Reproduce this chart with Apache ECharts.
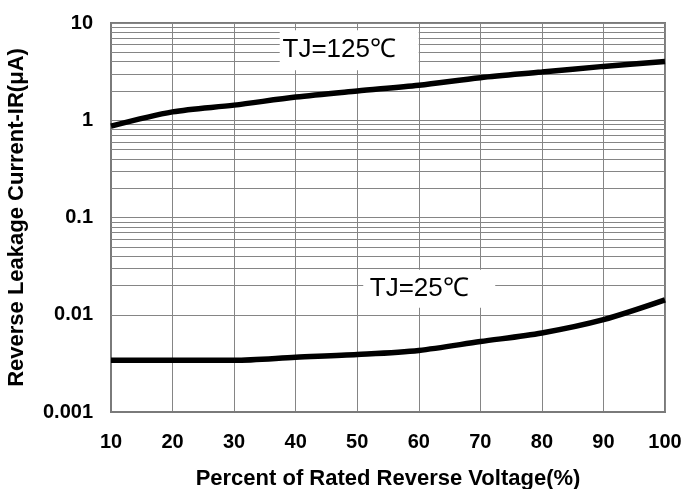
<!DOCTYPE html>
<html>
<head>
  <meta charset="utf-8" />
  <title>Reverse Leakage Current</title>
  <script src="https://cdn.jsdelivr.net/npm/echarts@6/dist/echarts.min.js"></script>
</head>
<body style="margin: 0; background-color: #ffffff">
  <div id="main" style="width: 684px; height: 489px;"></div>
  <script type="text/javascript">
    // percent of rated reverse voltage
    var voltPct = [10, 20, 30, 40, 50, 60, 70, 80, 90, 100];
    // leakage current (uA)
    var ir125 = [0.87, 1.22, 1.43, 1.73, 2.0, 2.29, 2.74, 3.13, 3.58, 4.03];
    var ir25 = [0.0034, 0.0034, 0.0034, 0.00365, 0.0039, 0.0043, 0.0053, 0.0065, 0.0089, 0.0142];
    var seriesNames = ['TJ=125℃', 'TJ=25℃'];
    var labelAt = [[48.7, 5.25], [61.7, 0.0185]];
    var decades = [0.001, 0.01, 0.1, 1];
    var minorSteps = [2, 3, 4, 5, 6, 7, 8, 9];

    var minorLines = [];
    decades.forEach(function(d) {
        minorSteps.forEach(function(m) { minorLines.push({yAxis: +(d * m).toPrecision(2)}); });
    });

    function pairs(ys) { return voltPct.map(function(x, i) { return [x, ys[i]]; }); }

    var boldFont = {fontFamily: 'Liberation Sans, Arial, sans-serif', fontWeight: 'bold', color: '#000'};
    var gridColor = '#858585';

    function tagPoint(i, w, h) {
        return {
            silent: true,
            symbol: 'rect',
            symbolSize: [w, h],
            itemStyle: {color: '#ffffff'},
            label: {show: true, position: 'inside', offset: [-10, 0], formatter: seriesNames[i], color: '#000',
                    fontFamily: 'Liberation Sans, Arial, sans-serif', fontSize: 26},
            data: [{coord: labelAt[i]}]
        };
    }

    var myChart = echarts.init(document.getElementById('main'), null, {renderer: 'canvas'});
    var option = {
        animation: false,
        grid: {left: 111, right: 19, top: 23, bottom: 77, outerBoundsMode: 'none', containLabel: false,
               show: true, borderColor: '#7a7a7a', borderWidth: 2},
        xAxis: {
            type: 'value', min: 10, max: 100, interval: 10,
            name: 'Percent of Rated Reverse Voltage(%)', nameLocation: 'middle', nameGap: 56,
            nameTextStyle: Object.assign({fontSize: 22}, boldFont),
            axisLine: {lineStyle: {color: '#7a7a7a', width: 2}},
            axisTick: {show: false},
            axisLabel: Object.assign({fontSize: 20, margin: 20}, boldFont),
            splitLine: {show: true, lineStyle: {color: gridColor, width: 1}}
        },
        yAxis: {
            type: 'log', logBase: 10, min: 0.001, max: 10,
            name: 'Reverse Leakage Current-IR(μA)', nameLocation: 'middle', nameGap: 83,
            nameTextStyle: Object.assign({fontSize: 22}, boldFont),
            axisLine: {show: true, lineStyle: {color: '#7a7a7a', width: 2}},
            axisTick: {show: false},
            axisLabel: Object.assign({fontSize: 20, margin: 18, formatter: function(v) {
                return String(parseFloat((+v).toPrecision(3)));
            }}, boldFont),
            splitLine: {show: true, lineStyle: {color: gridColor, width: 1}}
        },
        series: [
            {
                name: 'grid', type: 'line', data: [], silent: true, z: 1,
                markLine: {silent: true, symbol: 'none', label: {show: false}, animation: false,
                           lineStyle: {color: gridColor, width: 1, type: 'solid'}, data: minorLines}
            },
            {
                name: seriesNames[0], type: 'line', data: pairs(ir125), smooth: 0.3, showSymbol: false, z: 5,
                lineStyle: {color: '#000', width: 5.5}, markPoint: tagPoint(0, 139, 40)
            },
            {
                name: seriesNames[1], type: 'line', data: pairs(ir25), smooth: 0.3, showSymbol: false, z: 5,
                lineStyle: {color: '#000', width: 5.5}, markPoint: tagPoint(1, 132, 38)
            }
        ]
    };
    myChart.setOption(option);
  </script>
</body>
</html>
